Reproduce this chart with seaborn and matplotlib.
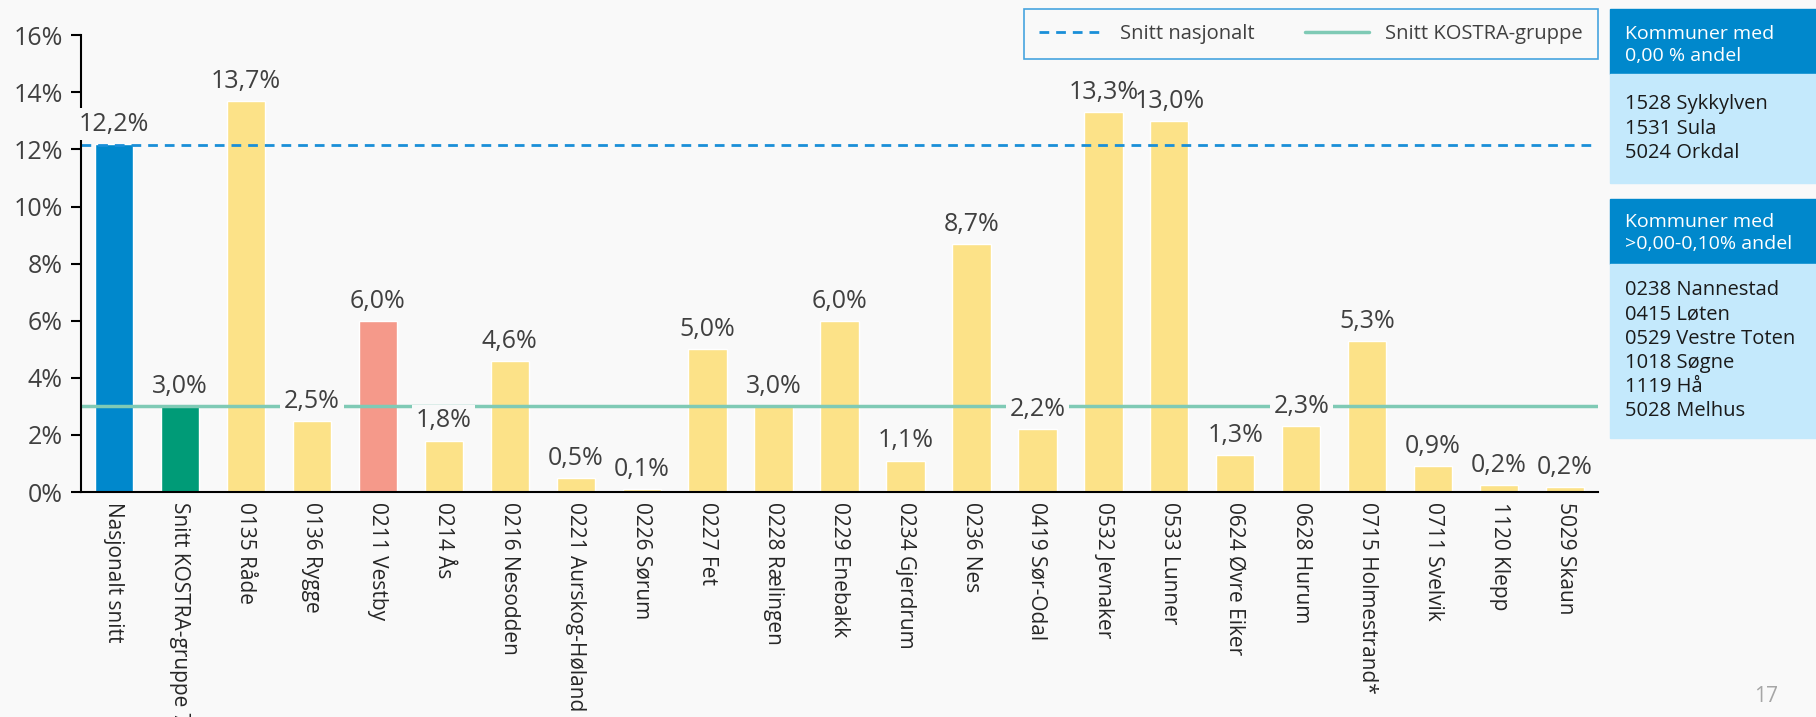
import matplotlib
matplotlib.use("Agg")
import matplotlib.pyplot as plt
import seaborn as sns
import pandas as pd
from matplotlib.patches import Rectangle
from matplotlib.lines import Line2D

# Data
kommuner = ["Nasjonalt snitt", "Snitt KOSTRA-gruppe 7", "0135 Råde", "0136 Rygge",
            "0211 Vestby", "0214 Ås", "0216 Nesodden", "0221 Aurskog-Høland",
            "0226 Sørum", "0227 Fet", "0228 Rælingen", "0229 Enebakk",
            "0234 Gjerdrum", "0236 Nes", "0419 Sør-Odal", "0532 Jevnaker",
            "0533 Lunner", "0624 Øvre Eiker", "0628 Hurum", "0715 Holmestrand*",
            "0711 Svelvik", "1120 Klepp", "5029 Skaun"]
andel = [12.2, 3.0, 13.7, 2.5, 6.0, 1.8, 4.6, 0.5, 0.1, 5.0, 3.0, 6.0,
         1.1, 8.7, 2.2, 13.3, 13.0, 1.3, 2.3, 5.3, 0.9, 0.24, 0.18]
snitt_nasjonalt = 12.15
snitt_kostra = 3.0
null_andel = ["1528 Sykkylven", "1531 Sula", "5024 Orkdal"]
lav_andel = ["0238 Nannestad", "0415 Løten", "0529 Vestre Toten",
             "1018 Søgne", "1119 Hå", "5028 Melhus"]

# Farger
bg = "#f9f9f9"
blaa = "#0088cc"
groenn = "#009b77"
gul = "#fce288"
rosa = "#f5998a"
farger = [blaa, groenn] + [gul] * len(kommuner[2:])
farger[4] = rosa

sns.set_theme(style="white")
plt.rcParams["font.family"] = ["Open Sans", "DejaVu Sans"]
plt.rcParams["text.color"] = "#404040"

df = pd.DataFrame({"Kommune": kommuner, "Andel": andel})

fig = plt.figure(figsize=(18.16, 7.17), dpi=100, facecolor=bg)
ax = fig.add_axes([0.0446, 0.3138, 0.8354, 0.637])
ax.set_facecolor(bg)

sns.barplot(data=df, x="Kommune", y="Andel", hue="Kommune", palette=farger,
            legend=False, width=0.58, saturation=1, ax=ax)

ax.axhline(snitt_nasjonalt, color="#1a8fd8", linestyle=(0, (3.5, 2.5)), lw=2, zorder=1)
ax.axhline(snitt_kostra, color="#7fcab5", lw=2.5, zorder=1)

# dataetiketter: bakgrunn som skjuler linjene, så teksten over
for i, v in enumerate(andel):
    tekst = f"{v:.1f}%".replace(".", ",")
    ax.text(i, v + 0.25, tekst, ha="center", va="bottom", fontsize=18, color=(0, 0, 0, 0),
            zorder=4, bbox=dict(boxstyle="square,pad=0.15", fc=bg, ec="none"))
    ax.text(i, v + 0.25, tekst, ha="center", va="bottom", fontsize=18, color="#404040", zorder=6)

ax.set_ylim(0, 16)
ax.set_xlim(-0.5, len(kommuner) - 0.5)
ax.set_yticks(range(0, 17, 2))
ax.set_yticklabels([f"{t}%" for t in range(0, 17, 2)], fontsize=18, color="#404040")
ax.set_xticks(range(len(kommuner)))
ax.set_xticklabels(kommuner, rotation=270, fontsize=15, color="#262626", va="top", ha="center")
ax.set_xlabel("")
ax.set_ylabel("")
for s in ["top", "right"]:
    ax.spines[s].set_visible(False)
for s in ["left", "bottom"]:
    ax.spines[s].set_color("black")
    ax.spines[s].set_linewidth(1.5)
ax.tick_params(axis="y", which="both", left=True, length=7, width=1.5, color="black", pad=6)
ax.tick_params(axis="x", length=0, pad=7)

# Legende
handles = [Line2D([], [], color="#1a8fd8", linestyle=(0, (3.5, 2.5)), lw=2),
           Line2D([], [], color="#7fcab5", lw=2.5)]
leg = fig.legend(handles, ["Snitt nasjonalt", "Snitt KOSTRA-gruppe"], ncol=2,
                 loc="upper right", bbox_to_anchor=(0.88, 0.988), borderaxespad=0,
                 fontsize=14.5, frameon=True, fancybox=False, handlelength=3.2,
                 columnspacing=2.5, borderpad=0.75)
leg.get_frame().set_edgecolor("#1a8fd8")
leg.get_frame().set_facecolor(bg)
leg.get_frame().set_linewidth(1.2)

# Bokser til høyre
W, H = 1816, 717
def boks(y0, y1, farge):
    fig.patches.append(Rectangle((1610 / W, 1 - y1 / H), 206 / W, (y1 - y0) / H,
                                 transform=fig.transFigure, color=farge, zorder=0))

boks(9, 74, blaa)
boks(74, 183, "#c4e9fc")
boks(199, 264, blaa)
boks(264, 438, "#c4e9fc")

fig.text(1625 / W, 1 - 45 / H, "Kommuner med\n0,00 % andel", color="white",
         fontsize=14, va="center", linespacing=1.25)
for j, navn in enumerate(null_andel):
    fig.text(1625 / W, 1 - (104 + 24.5 * j) / H, navn, color="#1a1a1a", fontsize=14.5, va="center")
fig.text(1625 / W, 1 - 233 / H, "Kommuner med\n>0,00-0,10% andel", color="white",
         fontsize=14, va="center", linespacing=1.25)
for j, navn in enumerate(lav_andel):
    fig.text(1625 / W, 1 - (290 + 24.3 * j) / H, navn, color="#1a1a1a", fontsize=14.5, va="center")

fig.text(1766 / W, 1 - 697 / H, "17", color="#a6a6a6", fontsize=15, ha="center", va="center")

fig.savefig("out.png", dpi=100, facecolor=bg)
